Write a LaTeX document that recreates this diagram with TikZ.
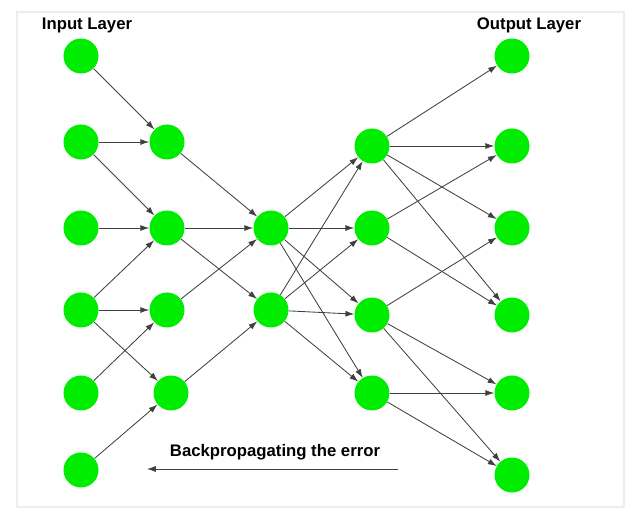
\documentclass[tikz,border=0pt]{standalone}
\usepackage{fontspec}
\setmainfont{Liberation Sans}
\usetikzlibrary{arrows.meta}
\pgfdeclarelayer{edgelayer}
\pgfdeclarelayer{nodelayer}
\pgfsetlayers{edgelayer,nodelayer,main}
\definecolor{neuron}{RGB}{0,236,0}
\definecolor{wire}{RGB}{64,64,64}
\tikzset{font=\fontsize{11.9}{14}\selectfont\bfseries}
\tikzstyle{none}=[inner sep=0pt]
\tikzstyle{label}=[inner sep=0pt]
\tikzstyle{unit}=[circle,fill=neuron,inner sep=0pt,minimum size=0.875cm]
\tikzstyle{link}=[draw=wire,line width=0.6pt,-{Latex[length=2.2mm,width=1.5mm]}]
\begin{document}
\begin{tikzpicture}
	\useasboundingbox (0,0) rectangle (15.95,12.95);
	\begin{pgfonlayer}{nodelayer}
		\node [style=unit] (0) at (2.025, 11.55) {};
		\node [style=unit] (1) at (2.025, 9.4) {};
		\node [style=unit] (2) at (2.025, 7.25) {};
		\node [style=unit] (3) at (2.025, 5.2) {};
		\node [style=unit] (4) at (2.025, 3.125) {};
		\node [style=unit] (5) at (2.025, 1.2) {};
		\node [style=unit] (6) at (4.175, 9.4) {};
		\node [style=unit] (7) at (4.175, 7.25) {};
		\node [style=unit] (8) at (4.175, 5.2) {};
		\node [style=unit] (9) at (4.275, 3.125) {};
		\node [style=unit] (10) at (6.775, 7.25) {};
		\node [style=unit] (11) at (6.775, 5.2) {};
		\node [style=unit] (12) at (9.3, 9.3) {};
		\node [style=unit] (13) at (9.3, 7.25) {};
		\node [style=unit] (14) at (9.3, 5.075) {};
		\node [style=unit] (15) at (9.3, 3.125) {};
		\node [style=unit] (16) at (12.8, 11.55) {};
		\node [style=unit] (17) at (12.8, 9.3) {};
		\node [style=unit] (18) at (12.8, 7.25) {};
		\node [style=unit] (19) at (12.8, 5.075) {};
		\node [style=unit] (20) at (12.8, 3.125) {};
		\node [style=unit] (21) at (12.8, 1.075) {};
		\node [style=label] (22) at (2.175, 12.325) {Input Layer};
		\node [style=label] (23) at (13.225, 12.325) {Output Layer};
		\node [style=label] (24) at (6.875, 1.65) {Backpropagating the error};
		\node [style=none] (25) at (9.95, 1.225) {};
		\node [style=none] (26) at (3.675, 1.225) {};
	\end{pgfonlayer}
	\begin{pgfonlayer}{edgelayer}
		\draw [draw=black!7, line width=0.8pt] (0.425, 0.275) rectangle (15.6, 12.65);
		\draw [style=link] (0) to (6);
		\draw [style=link] (1) to (6);
		\draw [style=link] (1) to (7);
		\draw [style=link] (2) to (7);
		\draw [style=link] (3) to (7);
		\draw [style=link] (3) to (8);
		\draw [style=link] (3) to (9);
		\draw [style=link] (4) to (8);
		\draw [style=link] (5) to (9);
		\draw [style=link] (6) to (10);
		\draw [style=link] (7) to (10);
		\draw [style=link] (7) to (11);
		\draw [style=link] (8) to (10);
		\draw [style=link] (9) to (11);
		\foreach \a in {10,11} {
			\foreach \b in {12,13,14,15} {
				\draw [style=link] (\a) to (\b);
			}
		}
		\draw [style=link] (12) to (16);
		\draw [style=link] (12) to (17);
		\draw [style=link] (12) to (18);
		\draw [style=link] (12) to (19);
		\draw [style=link] (13) to (17);
		\draw [style=link] (13) to (19);
		\draw [style=link] (14) to (18);
		\draw [style=link] (14) to (20);
		\draw [style=link] (14) to (21);
		\draw [style=link] (15) to (20);
		\draw [style=link] (15) to (21);
		\draw [style=link] (25.center) to (26.center);
	\end{pgfonlayer}
\end{tikzpicture}
\end{document}
